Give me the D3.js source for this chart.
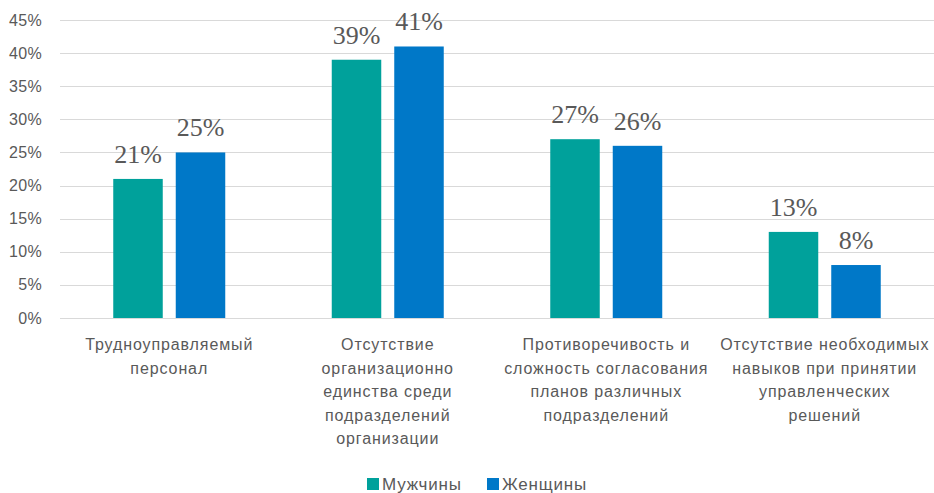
<!DOCTYPE html>
<html>
<head>
<meta charset="utf-8">
<script src="https://cdn.jsdelivr.net/npm/d3@7"></script>
<style>
  body { margin: 0; background: #fff; }
  #chart text { fill: #595959; }
</style>
</head>
<body>
<div id="chart"></div>
<script>
(function () {
  var categories = ['c1', 'c2', 'c3', 'c4'];
  var categoryLines = [
    ['Трудноуправляемый', 'персонал'],
    ['Отсутствие', 'организационно', 'единства среди', 'подразделений', 'организации'],
    ['Противоречивость и', 'сложность согласования', 'планов различных', 'подразделений'],
    ['Отсутствие необходимых', 'навыков при принятии', 'управленческих', 'решений']
  ];
  var seriesNames = ['Мужчины', 'Женщины'];
  var men = [21, 39, 27, 13];
  var women = [25, 41, 26, 8];
  var yTicks = [0, 5, 10, 15, 20, 25, 30, 35, 40, 45];

  var colors = ['#00a19b', '#0078c8'];
  var width = 934, height = 493;
  var left = 60, right = 934, top = 20, bottom = 318;

  var svg = d3.select('#chart').append('svg')
        .attr('width', width)
        .attr('height', height);

  var x = d3.scaleBand().domain(categories).range([left, right]);
  var x1 = d3.scaleBand().domain(seriesNames).range([0, 112]).paddingInner(0.208);
  var y = d3.scaleLinear().domain([0, 45]).range([bottom, top]);

  // grid lines
  svg.append('g').selectAll('line')
    .data(yTicks)
    .enter().append('line')
    .attr('x1', left).attr('x2', right)
    .attr('y1', function (d) { return Math.round(y(d)) + 0.5; })
    .attr('y2', function (d) { return Math.round(y(d)) + 0.5; })
    .attr('stroke', '#d9d9d9')
    .attr('stroke-width', 1);

  // y tick labels
  svg.append('g').selectAll('text')
    .data(yTicks)
    .enter().append('text')
    .attr('x', 42)
    .attr('y', function (d) { return y(d) + 5.5; })
    .attr('text-anchor', 'end')
    .style('font-family', 'Liberation Sans, Arial, sans-serif')
    .style('font-size', '16px')
    .style('letter-spacing', '0.3px')
    .text(function (d) { return d + '%'; });

  var series = [men, women];
  var groups = svg.append('g').selectAll('g')
    .data(series)
    .enter().append('g');

  var barX = function (d) {
    return x(d.c) + x.bandwidth() / 2 - 56 + x1(seriesNames[d.s]);
  };

  groups.selectAll('rect')
    .data(function (s, si) {
      return s.map(function (v, i) { return {v: v, c: categories[i], s: si}; });
    })
    .enter().append('rect')
    .attr('x', barX)
    .attr('width', x1.bandwidth())
    .attr('y', function (d) { return y(d.v); })
    .attr('height', function (d) { return bottom - y(d.v); })
    .attr('fill', function (d) { return colors[d.s]; });

  groups.selectAll('text')
    .data(function (s, si) {
      return s.map(function (v, i) { return {v: v, c: categories[i], s: si}; });
    })
    .enter().append('text')
    .attr('x', function (d) { return barX(d) + x1.bandwidth() / 2; })
    .attr('y', function (d) { return y(d.v) - 16; })
    .attr('text-anchor', 'middle')
    .style('font-family', 'Liberation Serif, Times New Roman, serif')
    .style('font-size', '26px')
    .text(function (d) { return d.v + '%'; });

  // category labels
  var catG = svg.append('g').selectAll('text')
    .data(categoryLines)
    .enter().append('text')
    .attr('text-anchor', 'middle')
    .style('font-family', 'Liberation Sans, Arial, sans-serif')
    .style('font-size', '16px')
    .style('letter-spacing', '0.9px');

  catG.selectAll('tspan')
    .data(function (d, i) { return d.map(function (t) { return {t: t, i: i}; }); })
    .enter().append('tspan')
    .attr('x', function (d) { return x(categories[d.i]) + x.bandwidth() / 2; })
    .attr('y', function (d, j) { return 350 + j * 23.5; })
    .text(function (d) { return d.t; });

  // legend
  var legendX = [367, 487];
  var leg = svg.append('g').selectAll('g')
    .data(seriesNames)
    .enter().append('g')
    .attr('transform', function (d, i) { return 'translate(' + legendX[i] + ',478)'; });
  leg.append('rect')
    .attr('width', 12).attr('height', 12)
    .attr('fill', function (d, i) { return colors[i]; });
  leg.append('text')
    .attr('x', 15).attr('y', 12)
    .style('font-family', 'Liberation Sans, Arial, sans-serif')
    .style('font-size', '17px')
    .style('letter-spacing', '0.8px')
    .text(function (d) { return d; });
})();
</script>
</body>
</html>
